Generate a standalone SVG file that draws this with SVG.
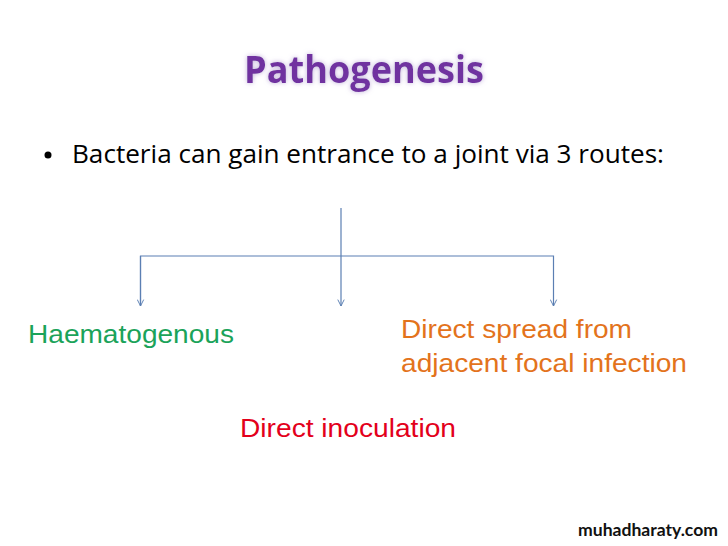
<svg xmlns="http://www.w3.org/2000/svg" width="728" height="546" viewBox="0 0 728 546">
<defs>
<marker id="arr" viewBox="0 0 10 10" refX="9" refY="5" markerWidth="8" markerHeight="8" markerUnits="userSpaceOnUse" orient="auto">
<path d="M1,1 L9,5 L1,9" fill="none" stroke="#5B7FB3" stroke-width="1.2"/>
</marker>
<filter id="glow" x="-10%" y="-30%" width="120%" height="160%">
<feGaussianBlur in="SourceAlpha" stdDeviation="2.5" result="b"/>
<feFlood flood-color="#B9A6D6" flood-opacity="0.9"/>
<feComposite in2="b" operator="in" result="g"/>
<feMerge><feMergeNode in="g"/><feMergeNode in="SourceGraphic"/></feMerge>
</filter>
</defs>
<style>
.conn{fill:none;stroke:#5B7FB3;stroke-width:1.2}
.lbl{font-family:"Liberation Sans",Arial,sans-serif;font-size:26px}
</style>
<rect width="728" height="546" fill="#ffffff"/>
<g id="title"><text x="244" y="83" font-family="Open Sans,Lato,sans-serif" font-weight="bold" font-size="38" fill="#7030A0" textLength="240" lengthAdjust="spacingAndGlyphs" filter="url(#glow)">Pathogenesis</text></g>
<g id="bullet">
<circle cx="48" cy="155" r="3.5" fill="#000"/>
<text x="72" y="163" font-family="Open Sans,Lato,sans-serif" font-size="25" fill="#000" textLength="592" lengthAdjust="spacingAndGlyphs">Bacteria can gain entrance to a joint via 3 routes:</text>
</g>
<g id="connectors">
<line class="conn" x1="341" y1="208" x2="341" y2="306" marker-end="url(#arr)"/>
<polyline class="conn" points="140.5,306 140.5,256 553.5,256 553.5,306" marker-end="url(#arr)"/>
<line class="conn" x1="140.5" y1="256" x2="140.5" y2="306" marker-end="url(#arr)"/>
</g>
<g id="haematogenous"><text class="lbl" x="28" y="343" fill="#1BA35A" textLength="206" lengthAdjust="spacingAndGlyphs">Haematogenous</text></g>
<g id="direct-spread">
<text class="lbl" x="401" y="338" fill="#E3731C" textLength="231" lengthAdjust="spacingAndGlyphs">Direct spread from</text>
<text class="lbl" x="401" y="372" fill="#E3731C" textLength="286" lengthAdjust="spacingAndGlyphs">adjacent focal infection</text>
</g>
<g id="direct-inoculation"><text class="lbl" x="240" y="437" fill="#E3001B" textLength="216" lengthAdjust="spacingAndGlyphs">Direct inoculation</text></g>
<g id="watermark"><text x="578" y="536" font-family="Lato,'Open Sans',sans-serif" font-weight="bold" font-size="17" fill="#111" textLength="140" lengthAdjust="spacingAndGlyphs">muhadharaty.com</text></g>
</svg>
